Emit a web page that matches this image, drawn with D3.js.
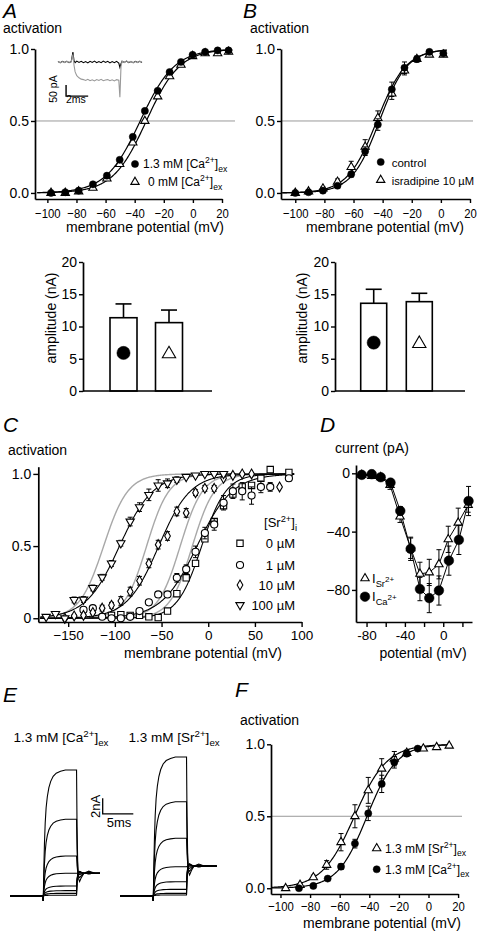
<!DOCTYPE html>
<html><head><meta charset="utf-8">
<script src="https://d3js.org/d3.v7.min.js"></script>
<style>
body{margin:0;background:#fff;}
svg{display:block;}
</style></head><body>
<script>
// ================= DATA =================
// Panel A: activation, 1.3 mM vs 0 mM [Ca2+]ex
const aVolt   = [-97.5,-87.7,-78.5,-68.7,-59.1,-50.3,-41.3,-33,-24.2,-16,-8.2,-0.2,8.4,17,24.5];
const aCa13   = [0.0,0.005,0.016,0.06,0.12,0.23,0.39,0.57,0.71,0.84,0.91,0.96,0.98,0.99,0.99];
const aCa0    = [0.0,0.0,0.01,0.035,0.10,0.20,0.35,0.50,0.67,0.81,0.89,0.95,0.97,0.97,0.98];
const aFitCa13 = {vh:-36.2, k:11.8};
const aFitCa0  = {vh:-32.0, k:11.5};
// Panel A inset traces (time ms, current pA)
const insT   = [0,0.2,0.4,0.6,0.8,1.0,1.2,1.35,1.45,1.55,1.7,1.9,2.1,2.3,2.5,2.7,2.9,3.1,3.3,3.5,3.7,3.9,4.1,4.3,4.5,4.7,4.9,5.1,5.3,5.5,5.6,5.7,5.8,6.0,6.2,6.4,6.6,6.8,7.0,7.2,7.4,7.6];
const insGray  = [3,-4,2,-3,4,-2,1,35,-15,-45,-62,-72,-78,-80,-84,-79,-85,-81,-86,-80,-84,-79,-85,-82,-80,-85,-81,-86,-80,-83,-160,-20,4,-3,5,-2,3,-4,2,-3,4,-1];
const insBlack = [2,-3,3,-2,3,-3,2,45,5,-3,4,-2,3,-3,2,-4,3,-2,4,-3,2,-3,4,-2,3,-4,2,-3,3,-5,-25,-8,3,-2,4,-3,2,-3,3,-2,3,-2];

// Panel B: activation, control vs isradipine
const bVolt   = [-100,-90.9,-81,-71,-61.6,-52,-43.3,-33.7,-25,-16.5,-7.9,1.7];
const bCtrl   = [0.0,0.005,0.016,0.05,0.13,0.29,0.475,0.72,0.87,0.93,0.98,0.97];
const bCtrlErr= [0.005,0.008,0.01,0.015,0.02,0.03,0.04,0.05,0.04,0.02,0.01,0.01];
const bIsr    = [0.0,0.01,0.03,0.077,0.18,0.32,0.52,0.69,0.85,0.93,0.96,0.96];
const bIsrErr = [0.005,0.01,0.012,0.02,0.04,0.05,0.05,0.04,0.03,0.02,0.01,0.01];
const bFitCtrl = {vh:-42.2, k:9.5};
const bFitIsr  = {vh:-44.0, k:10.0};

// Amplitude bars (nA)
const barCats = ["circle","triangle"];
const barA    = [11.36,10.6];
const barAErr = [2.14,1.95];
const barB    = [13.6,13.85];
const barBErr = [2.17,1.3];

// Panel C: activation vs [Sr2+]i
const c0Volt  = [-103.6,-93.6,-83.6,-73.6,-63.6,-53.6,-43.6,-33.6,-23.6,-13.6,-3.6,6.4,16.4,26.4,36.4,46.4,56.4,66.4,86.4];
const c0      = [0.02,0.025,0.02,0.02,0.01,0.005,0.05,0.17,0.28,0.38,0.55,0.67,0.78,0.86,0.91,0.92,0.97,1.03,1.01];
const c1Volt  = [-133.6,-123.6,-113.6,-103.6,-93.6,-83.6,-73.6,-63.6,-53.6,-43.6,-33.6,-23.6,-13.6,-3.6,6.4,16.4,26.4,36.4,46.4,56.4,66.4,86.4];
const c1      = [0.058,0.07,0.011,0.0,0.0,0.01,0.05,0.11,0.165,0.165,0.28,0.34,0.46,0.59,0.65,0.80,0.88,0.88,0.85,0.91,0.91,0.97];
const c1Err   = [0.01,0.01,0.01,0.01,0.01,0.01,0.01,0.02,0.02,0.02,0.03,0.03,0.04,0.04,0.04,0.05,0.05,0.06,0.06,0.04,0.03,0.02];
const c10Volt = [-153.6,-143.6,-133.6,-123.6,-113.6,-103.6,-93.6,-83.6,-73.6,-63.6,-53.6,-43.6,-33.6,-23.6,-13.6,-3.6,6.4,16.4,26.4,36.4,46.4,76.4];
const c10     = [0.0,0.016,0.02,0.04,0.07,0.09,0.12,0.185,0.26,0.38,0.51,0.57,0.74,0.73,0.87,0.90,0.90,0.97,0.99,1.0,1.0,0.91];
const c10Err  = [0.01,0.01,0.01,0.01,0.02,0.02,0.03,0.03,0.03,0.03,0.03,0.03,0.03,0.03,0.02,0.02,0.02,0.01,0.01,0.01,0.01,0.01];
const c100Volt= [-173.6,-163.6,-153.6,-143.6,-133.6,-123.6,-113.6,-103.6,-93.6,-83.6,-73.6,-63.6,-53.6,-43.6,-33.6,-23.6,-13.6,-3.6,6.4,16.4];
const c100    = [0.01,0.03,0.0,0.127,0.13,0.21,0.284,0.38,0.52,0.67,0.77,0.855,0.92,0.935,0.96,0.98,0.99,1.0,1.0,1.0];
const c100Err = [0.01,0.01,0.01,0.02,0.02,0.02,0.02,0.02,0.02,0.03,0.03,0.04,0.04,0.03,0.02,0.01,0.01,0.01,0.01,0.01];
const cFitBlack = [{vh:-7,k:13},{vh:-12,k:19},{vh:-53,k:17},{vh:-95,k:18}];
const cFitGray  = [{vh:-112,k:13},{vh:-66,k:12},{vh:-30,k:12},{vh:-17,k:12}];
const cLegend   = ["0 µM","1 µM","10 µM","100 µM"];

// Panel D: I-V (pA)
const dVoltSr = [-85,-74.6,-65.2,-55.5,-45.1,-34,-24.3,-14.6,-4.5,5.2,15.6,26];
const dSr     = [-1.1,-1.8,-2.7,-8,-29.7,-51.4,-69,-68,-62.4,-45.3,-33.9,-21.7];
const dSrErr  = [1,1.5,1,3,4,7,8,9,10,9,10,5];
const dVoltCa = [-85,-74.6,-65.2,-55,-44.8,-34,-24.3,-14.6,-4.5,5.9,16.3,26.4];
const dCa     = [-1.1,-0.6,-2.7,-6.4,-25.8,-51.8,-79.4,-85.6,-80.4,-59.9,-45.7,-19];
const dCaErr  = [1,1,1,2,3,8,8,10,10,10,10,10];

// Panel E: current traces (nA) during a step
const eCaAmp  = [16.05,9.77,5.1,2.9,1.27,0.68,0.34,0.1];
const eSrAmp  = [17.7,12.0,7.35,3.73,1.82,0.85,0.34,0.13];
const eCaTail = 2.9, eSrTail = 3.8;
const eOnset = 5.4, eOffset = 10.85, eCaEnd = 14.7, eSrEnd = 15.8;
const eRiseT = [0,0.08,0.18,0.3,0.45,0.65,0.9,1.2,1.6,2.1,2.8,3.6];
const eRiseF = [0,0.22,0.42,0.58,0.7,0.79,0.86,0.91,0.95,0.975,0.99,1];
const eTailT = [0,0.08,0.18,0.3,0.5,0.8,1.2,2,3];
const eTailF = [1,0.45,0.12,-0.05,-0.08,-0.04,0,0.02,0];

// Panel F: activation Sr vs Ca
const fVoltSr = [-96.5,-86.8,-77.8,-68.8,-59.1,-49.7,-40.7,-31.6,-23.1,-14.7,-3.5,5.5,14];
const fSr     = [0.0,0.023,0.076,0.162,0.32,0.5,0.68,0.83,0.9,0.94,0.97,0.98,0.99];
const fSrErr  = [0.005,0.01,0.015,0.03,0.06,0.08,0.09,0.07,0.05,0.02,0.01,0.01,0.01];
const fVoltCa = [-87.5,-77.8,-68.1,-59.1,-49.7,-40.7,-31.6,-23.1,-14.7,-7.3];
const fCa     = [0.0,0.016,0.067,0.15,0.31,0.52,0.725,0.875,0.935,0.97];
const fCaErr  = [0.005,0.008,0.01,0.02,0.03,0.05,0.06,0.04,0.02,0.01];
const fFitSr = {vh:-50, k:11};
const fFitCa = {vh:-41.5, k:10};

// ================= DRAWING =================
const FONT = '"Liberation Sans", Arial, Helvetica, sans-serif';
const svg = d3.select("body").append("svg").attr("width",477).attr("height",931)
  .attr("font-family", FONT);

const boltz = (v, p) => 1/(1+Math.exp((p.vh - v)/p.k));

function richText(g, x, y, segs, size, anchor) {
  const t = g.append("text").attr("x",x).attr("y",y).attr("font-size",size)
    .attr("text-anchor",anchor||"start").attr("fill","#000");
  let cur = 0;
  segs.forEach(s => {
    const [txt, kind] = Array.isArray(s) ? s : [s, null];
    let off = 0, fs = size;
    if (kind === "sup") { off = -0.4*size; fs = size*0.72; }
    if (kind === "sub") { off = 0.3*size; fs = size*0.72; }
    if (kind === "ss")  { off = -0.05*size; fs = size*0.62; }
    t.append("tspan").text(txt).attr("dy", off-cur).attr("font-size", fs);
    cur = off;
  });
  return t;
}
function label(x, y, txt, size, opts) {
  opts = opts || {};
  const t = svg.append("text").attr("x",x).attr("y",y).attr("font-size",size)
    .attr("fill","#000").attr("text-anchor",opts.anchor||"start").text(txt);
  if (opts.italic) t.attr("font-style","italic");
  if (opts.rotate) t.attr("transform",`rotate(-90,${x},${y})`);
  return t;
}
function styleAxis(g, fs, squeeze) {
  g.attr("font-family", FONT).attr("font-size", fs);
  g.select(".domain").attr("stroke","#000").attr("stroke-width",1.7);
  g.selectAll(".tick line").attr("stroke","#000").attr("stroke-width",1.4);
  g.selectAll(".tick text").attr("fill","#000");
  if (squeeze) g.selectAll(".tick text").attr("transform", `scale(${squeeze},1)`);
  return g;
}
const SYM = {
  circle: d3.symbol().type(d3.symbolCircle).size(40)(),
  tri: d3.symbol().type(d3.symbolTriangle).size(30)(),
  triDown: d3.symbol().type(d3.symbolTriangle).size(30)(),
  square: d3.symbol().type(d3.symbolSquare).size(40)(),
  diamond: d3.symbol().type(d3.symbolDiamond).size(28)(),
  circleOpen: d3.symbol().type(d3.symbolCircle).size(40)()
};
function drawSym(g, x, y, kind, scale) {
  const s = scale || 1;
  const filled = kind === "circle";
  const rot = kind === "triDown" ? " rotate(180)" : "";
  g.append("path").attr("d", SYM[kind])
    .attr("transform", `translate(${x},${y})${rot} scale(${s})`)
    .attr("fill", filled ? "#000" : "#fff").attr("stroke","#000")
    .attr("stroke-width", (filled?0.5:1.1)/s);
}
function drawErr(g, x, y0, y1, cap) {
  g.append("line").attr("x1",x).attr("x2",x).attr("y1",y0).attr("y2",y1)
    .attr("stroke","#000").attr("stroke-width",1);
  [y0,y1].forEach(y => g.append("line").attr("x1",x-cap).attr("x2",x+cap)
    .attr("y1",y).attr("y2",y).attr("stroke","#000").attr("stroke-width",1));
}
function drawSeries(g, xs, ys, errs, xS, yS, kind, scale) {
  if (errs) xs.forEach((v,i) => { if (errs[i] > 0.0) drawErr(g, xS(v), yS(ys[i]-errs[i]), yS(ys[i]+errs[i]), 2.5); });
  xs.forEach((v,i) => drawSym(g, xS(v), yS(ys[i]), kind, scale));
}
function drawFit(g, p, xS, yS, v0, v1, color, w) {
  const vs = d3.range(v0, v1+0.001, 0.5);
  g.append("path").datum(vs)
    .attr("d", d3.line().x(v => xS(v)).y(v => yS(boltz(v,p))))
    .attr("fill","none").attr("stroke",color).attr("stroke-width",w||1.2);
}

// ---------- Panel A ----------
{
  const g = svg.append("g");
  const xS = d3.scaleLinear().domain([-108.5,20]).range([35,222]);
  const yS = d3.scaleLinear().domain([-0.042,1]).range([199,49]);
  g.append("line").attr("x1",35).attr("x2",235).attr("y1",yS(0.5)).attr("y2",yS(0.5))
    .attr("stroke","#999").attr("stroke-width",1);
  drawFit(g, aFitCa13, xS, yS, -107, 27, "#000");
  drawFit(g, aFitCa0, xS, yS, -107, 27, "#000");
  drawSeries(g, aVolt, aCa0, null, xS, yS, "tri");
  drawSeries(g, aVolt, aCa13, null, xS, yS, "circle");
  styleAxis(g.append("g").attr("transform","translate(0,199)")
    .call(d3.axisBottom(xS).tickValues([-100,-80,-60,-40,-20,0,20]).tickSize(4).tickPadding(5).tickSizeOuter(0)), 13.5, 0.84);
  styleAxis(g.append("g").attr("transform","translate(35,0)")
    .call(d3.axisLeft(yS).tickValues([0,0.5,1]).tickFormat(d3.format(".1f")).tickSize(4).tickPadding(2).tickSizeOuter(0)), 14);
  // inset
  const tS = d3.scaleLinear().domain([0,7.6]).range([58,142]);
  const iS = d3.scaleLinear().domain([0,-160]).range([62,97.2]);
  const ln = d3.line().x((d,i) => tS(insT[i])).y(d => iS(d));
  g.append("path").attr("d", ln(insBlack)).attr("fill","none").attr("stroke","#000").attr("stroke-width",1.1);
  g.append("path").attr("d", ln(insGray)).attr("fill","none").attr("stroke","#999").attr("stroke-width",1.1);
  g.append("path").attr("d", `M${tS(0.73)},${iS(-105)}V${iS(-155)}H${tS(2.73)}`)
    .attr("fill","none").attr("stroke","#000").attr("stroke-width",1.4);
  label(56.5, 89, "50 pA", 10.5, {anchor:"middle", rotate:true});
  label(66, 103, "2ms", 10.5);
  // legend
  drawSym(g, 135, 164, "circle");
  richText(g, 143, 168, ["1.3 mM [Ca",["2+","sup"],"]",["ex","sub"]], 12);
  drawSym(g, 135, 182, "tri");
  richText(g, 148, 186, ["0 mM [Ca",["2+","sup"],"]",["ex","sub"]], 12);
}
label(3, 18, "A", 21, {italic:true});
label(3, 33, "activation", 14);
label(145, 232, "membrane potential (mV)", 14, {anchor:"middle"});

// ---------- Panel B ----------
{
  const g = svg.append("g");
  const xS = d3.scaleLinear().domain([-109.8,20]).range([281,470]);
  const yS = d3.scaleLinear().domain([-0.042,1]).range([199,49]);
  g.append("line").attr("x1",281).attr("x2",473).attr("y1",yS(0.5)).attr("y2",yS(0.5))
    .attr("stroke","#999").attr("stroke-width",1);
  drawFit(g, bFitCtrl, xS, yS, -109, 4, "#000");
  drawFit(g, bFitIsr, xS, yS, -109, 4, "#000");
  drawSeries(g, bVolt, bIsr, bIsrErr, xS, yS, "tri");
  drawSeries(g, bVolt, bCtrl, bCtrlErr, xS, yS, "circle");
  styleAxis(g.append("g").attr("transform","translate(0,199)")
    .call(d3.axisBottom(xS).tickValues([-100,-80,-60,-40,-20,0,20]).tickSize(4).tickPadding(5).tickSizeOuter(0)), 13.5, 0.84);
  styleAxis(g.append("g").attr("transform","translate(281,0)")
    .call(d3.axisLeft(yS).tickValues([0,0.5,1]).tickFormat(d3.format(".1f")).tickSize(4).tickPadding(2).tickSizeOuter(0)), 14);
  drawSym(g, 380.7, 162, "circle");
  richText(g, 391.7, 166.5, ["control"], 11.5);
  drawSym(g, 380.7, 180, "tri");
  richText(g, 391.7, 184.5, ["isradipine 10 µM"], 11.2);
}
label(243, 18, "B", 21, {italic:true});
label(250, 33, "activation", 14);
label(385, 232, "membrane potential (mV)", 14, {anchor:"middle"});

// ---------- Bars ----------
function bars(ax, centers, vals, errs, bw, lineEnd, labX, symLevel) {
  const g = svg.append("g");
  const yS = d3.scaleLinear().domain([0,20]).range([391,262]);
  const xS = d3.scalePoint().domain(barCats).range(centers);
  barCats.forEach((c,i) => {
    const x = xS(c);
    const top = yS(vals[i]+errs[i]);
    g.append("line").attr("x1",x-8).attr("x2",x+8).attr("y1",top).attr("y2",top)
      .attr("stroke","#000").attr("stroke-width",1.6);
    g.append("line").attr("x1",x).attr("x2",x).attr("y1",yS(vals[i])).attr("y2",top)
      .attr("stroke","#000").attr("stroke-width",1.6);
    g.append("rect").attr("x",x-bw/2).attr("y",yS(vals[i])).attr("width",bw).attr("height",yS(0)-yS(vals[i]))
      .attr("fill","#fff").attr("stroke","#000").attr("stroke-width",1.6);
    if (c === "circle") drawSym(g, x, yS(symLevel), "circle", 1.85);
    else drawSym(g, x, yS(symLevel)+1, "tri", 1.6);
  });
  g.append("line").attr("x1",ax).attr("x2",lineEnd).attr("y1",391).attr("y2",391)
    .attr("stroke","#000").attr("stroke-width",1.7);
  styleAxis(g.append("g").attr("transform",`translate(${ax},0)`)
    .call(d3.axisLeft(yS).tickValues([0,5,10,15,20]).tickSize(4).tickPadding(2).tickSizeOuter(0)), 14);
  label(labX, 318, "amplitude (nA)", 14, {anchor:"middle", rotate:true});
}
bars(83, [123.5,169], barA, barAErr, 27, 212, 56, 5.9);
bars(335, [373.7,419.3], barB, barBErr, 26, 465, 307, 7.5);

// ---------- Panel C ----------
{
  const g = svg.append("g");
  const xS = d3.scaleLinear().domain([-182,100]).range([38.3,301.6]);
  const yS = d3.scaleLinear().domain([-0.026,1.05]).range([622,466.7]);
  cFitGray.forEach(p => drawFit(g, p, xS, yS, -180, 92, "#a8a8a8", 1.4));
  cFitBlack.forEach(p => drawFit(g, p, xS, yS, -180, 92, "#000", 1.1));
  drawSeries(g, c0Volt, c0, null, xS, yS, "square");
  drawSeries(g, c1Volt, c1, c1Err, xS, yS, "circleOpen");
  drawSeries(g, c10Volt, c10, c10Err, xS, yS, "diamond");
  drawSeries(g, c100Volt, c100, c100Err, xS, yS, "triDown");
  styleAxis(g.append("g").attr("transform","translate(0,622)")
    .call(d3.axisBottom(xS).tickValues([-150,-100,-50,0,50,100]).tickSize(5).tickPadding(3).tickSizeOuter(0)), 13.5);
  styleAxis(g.append("g").attr("transform","translate(38.3,0)")
    .call(d3.axisLeft(yS).tickValues([0,0.5,1]).tickFormat(d => d===0?"0":d3.format(".1f")(d)).tickSize(5).tickPadding(2).tickSizeOuter(0)), 14);
  richText(g, 297, 527, ["[Sr",["2+","sup"],"]",["i","sub"]], 13, "end");
  ["square","circleOpen","diamond","triDown"].forEach((k,i) => {
    const y = [543.3,565,585,605][i];
    drawSym(g, 240, y, k);
    g.append("text").attr("x",295).attr("y",y+4.5).attr("font-size",13).attr("text-anchor","end").text(cLegend[i]);
  });
}
label(3, 432, "C", 21, {italic:true});
label(8, 455, "activation", 14);
label(203, 658, "membrane potential (mV)", 14, {anchor:"middle"});

// ---------- Panel D ----------
{
  const g = svg.append("g");
  const xS = d3.scaleLinear().domain([-91,30]).range([356,472]);
  const yS = d3.scaleLinear().domain([-102,5.7]).range([622,465]);
  const ln = (xs) => d3.line().x((d,i) => xS(xs[i])).y(d => yS(d));
  g.append("path").attr("d", ln(dVoltSr)(dSr)).attr("fill","none").attr("stroke","#000").attr("stroke-width",1);
  g.append("path").attr("d", ln(dVoltCa)(dCa)).attr("fill","none").attr("stroke","#000").attr("stroke-width",1);
  drawSeries(g, dVoltSr, dSr, dSrErr, xS, yS, "tri");
  drawSeries(g, dVoltCa, dCa, dCaErr, xS, yS, "circle", 1.35);
  styleAxis(g.append("g").attr("transform","translate(0,622)")
    .call(d3.axisBottom(xS).tickValues([-80,-60,-40,-20,0,20]).tickFormat(d => [-80,-40,0].includes(d)? d : "").tickSize(5).tickPadding(3).tickSizeOuter(0)), 13.5);
  styleAxis(g.append("g").attr("transform","translate(356,0)")
    .call(d3.axisLeft(yS).tickValues([-80,-40,0]).tickSize(4).tickPadding(2).tickSizeOuter(0)), 14);
  drawSym(g, 365, 578.3, "tri");
  richText(g, 372, 583, ["I",["Sr","sub"],["2+","ss"]], 13);
  drawSym(g, 365, 596.7, "circle", 1.35);
  richText(g, 372, 601, ["I",["Ca","sub"],["2+","ss"]], 13);
}
label(320, 432, "D", 21, {italic:true});
label(335, 453, "current (pA)", 14);
label(423, 658, "potential (mV)", 14, {anchor:"middle"});

// ---------- Panel E ----------
function traces(xS, yS, amps, tail, tEnd) {
  const g = svg.append("g");
  const ln = d3.line().x(d => xS(d[0])).y(d => yS(d[1]));
  amps.forEach(a => {
    const pts = [[0,0],[eOnset-0.01,0],[eOnset+0.02,-0.6]];
    eRiseT.forEach((t,i) => pts.push([eOnset+0.05+t, a*eRiseF[i]]));
    pts.push([eOffset, a]);
    eTailT.forEach((t,i) => pts.push([eOffset+0.02+t, tail + (a-tail)*eTailF[i]]));
    pts.push([tEnd, tail]);
    g.append("path").attr("d", ln(pts)).attr("fill","none").attr("stroke","#000").attr("stroke-width",1.1);
  });
}
{
  const yS = d3.scaleLinear().domain([0,16.05]).range([896,770]);
  const xCa = d3.scaleLinear().domain([0,eCaEnd]).range([10,100]);
  const xSr = d3.scaleLinear().domain([0,eSrEnd]).range([120,216.7]);
  traces(xCa, yS, eCaAmp, eCaTail, eCaEnd);
  traces(xSr, yS, eSrAmp, eSrTail, eSrEnd);
  svg.append("path").attr("d", `M${xCa(15.14)},${yS(12.45)}V${yS(10.45)}H${xCa(20.14)}`)
    .attr("fill","none").attr("stroke","#000").attr("stroke-width",1.3);
  label(99.5, 806.5, "2nA", 13, {anchor:"middle", rotate:true});
  label(106.7, 827, "5ms", 13);
}
label(3, 702, "E", 21, {italic:true});
richText(svg, 13.5, 742, ["1.3 mM [Ca",["2+","sup"],"]",["ex","sub"]], 13.5);
richText(svg, 128.5, 742, ["1.3 mM [Sr",["2+","sup"],"]",["ex","sub"]], 13.5);

// ---------- Panel F ----------
{
  const g = svg.append("g");
  const xS = d3.scaleLinear().domain([-106.4,20]).range([271,458.1]);
  const yS = d3.scaleLinear().domain([-0.04,1]).range([894,744.3]);
  g.append("line").attr("x1",271).attr("x2",462).attr("y1",yS(0.5)).attr("y2",yS(0.5))
    .attr("stroke","#999").attr("stroke-width",1);
  drawFit(g, fFitSr, xS, yS, -106, 14, "#000");
  drawFit(g, fFitCa, xS, yS, -106, 14, "#000");
  drawSeries(g, fVoltSr, fSr, fSrErr, xS, yS, "tri");
  drawSeries(g, fVoltCa, fCa, fCaErr, xS, yS, "circle");
  styleAxis(g.append("g").attr("transform","translate(0,894)")
    .call(d3.axisBottom(xS).tickValues([-100,-80,-60,-40,-20,0,20]).tickSize(4).tickPadding(3).tickSizeOuter(0)), 13.5, 0.84);
  styleAxis(g.append("g").attr("transform","translate(271,0)")
    .call(d3.axisLeft(yS).tickValues([0,0.5,1]).tickFormat(d3.format(".1f")).tickSize(4).tickPadding(2).tickSizeOuter(0)), 14);
  drawSym(g, 376.7, 848.3, "tri");
  richText(g, 385, 852.5, ["1.3 mM [Sr",["2+","sup"],"]",["ex","sub"]], 12);
  drawSym(g, 376.7, 869.3, "circle");
  richText(g, 385, 873.5, ["1.3 mM [Ca",["2+","sup"],"]",["ex","sub"]], 12);
}
label(235, 697, "F", 21, {italic:true});
label(240, 725, "activation", 14);
label(382, 928, "membrane potential (mV)", 14, {anchor:"middle"});
</script>
</body></html>
